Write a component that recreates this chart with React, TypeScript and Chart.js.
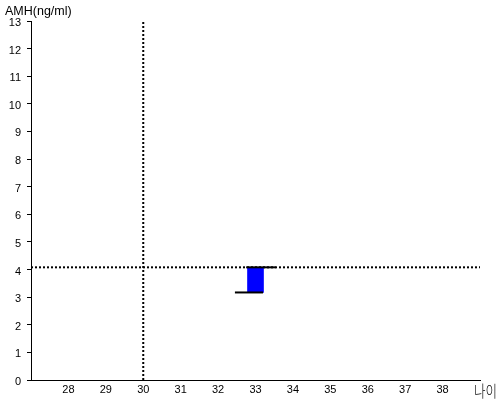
import React, { useEffect, useRef } from "react";
import { Chart, registerables } from "chart.js";

Chart.register(...registerables);

const xTicks = [28, 29, 30, 31, 32, 33, 34, 35, 36, 37, 38];
const xMin = 27;
const xMax = 39;
const yMin = 0;
const yMax = 13;
const yTitle = "AMH(ng/ml)";
const xTitle = "나이";

const refAge = 30;
const refAmh = 4.08;

const barAge = 33;
const barLow = 3.17;
const barHigh = 4.08;

const topLineX = [32.75, 33.54];
const bottomLineX = [32.45, 33.2];

const FONT = "'Liberation Sans', Arial, 'Noto Sans CJK KR', sans-serif";
const KFONT = "'Noto Sans CJK KR', 'Liberation Sans', sans-serif";

const titlePlugin = {
  id: "titles",
  afterDraw(chart: any) {
    const ctx = chart.ctx;
    ctx.save();
    ctx.fillStyle = "#000";
    ctx.textBaseline = "alphabetic";
    ctx.textAlign = "left";
    ctx.font = `12.5px ${FONT}`;
    ctx.fillText(yTitle, 5, 15);
    ctx.font = `300 16px ${KFONT}`;
    const w = ctx.measureText(xTitle).width;
    const sx = 23 / w;
    ctx.translate(474, 397);
    ctx.scale(sx, 1);
    ctx.fillText(xTitle, 0, 0);
    ctx.restore();
  },
};

export default function App() {
  const ref = useRef<HTMLCanvasElement>(null);
  useEffect(() => {
    document.body.style.margin = "0";
    const canvas = ref.current!;
    const chart = new Chart(canvas, {
      type: "line",
      data: {
        datasets: [
          {
            type: "line",
            data: topLineX.map((x) => ({ x, y: barHigh })),
            borderColor: "#000",
            borderWidth: 2,
            pointRadius: 0,
            order: 0,
          },
          {
            type: "line",
            data: bottomLineX.map((x) => ({ x, y: barLow })),
            borderColor: "#000",
            borderWidth: 2,
            pointRadius: 0,
            order: 0,
          },
          {
            type: "bar",
            data: [{ x: barAge, y: [barLow, barHigh] }] as any,
            backgroundColor: "#0000ff",
            borderWidth: 0,
            barThickness: 16,
            order: 1,
          },
          {
            type: "line",
            data: [
              { x: xMin, y: refAmh },
              { x: xMax, y: refAmh },
            ],
            borderColor: "#000",
            borderWidth: 2,
            borderDash: [2, 2],
            pointRadius: 0,
            order: 2,
          },
          {
            type: "line",
            data: [
              { x: refAge, y: yMin },
              { x: refAge, y: yMax },
            ],
            borderColor: "#000",
            borderWidth: 2,
            borderDash: [2, 2],
            pointRadius: 0,
            order: 2,
          },
        ] as any,
      },
      options: {
        responsive: false,
        animation: false,
        layout: { padding: { left: 0, right: 20, top: 21, bottom: 0 } },
        plugins: { legend: { display: false }, tooltip: { enabled: false } },
        scales: {
          x: {
            type: "linear",
            min: xMin,
            max: xMax,
            offset: false,
            afterBuildTicks(scale: any) {
              scale.ticks = xTicks.map((v) => ({ value: v }));
            },
            afterFit(scale: any) {
              scale.height = 20;
            },
            grid: { display: false, drawTicks: false, tickLength: 0 },
            border: { display: true, color: "#000", width: 1 },
            ticks: {
              color: "#000",
              padding: 3,
              maxRotation: 0,
              font: { size: 11, family: FONT },
            },
          },
          y: {
            type: "linear",
            min: yMin,
            max: yMax,
            afterFit(scale: any) {
              scale.width = 31;
            },
            grid: {
              display: true,
              drawOnChartArea: false,
              drawTicks: true,
              tickLength: 4,
              color: "#000",
            },
            border: { display: true, color: "#000", width: 1 },
            ticks: {
              stepSize: 1,
              color: "#000",
              padding: 6,
              labelOffset: 2,
              font: { size: 11, family: FONT },
            },
          },
        },
      },
      plugins: [titlePlugin],
    });
    return () => chart.destroy();
  }, []);
  return <canvas ref={ref} width={500} height={400} />;
}
